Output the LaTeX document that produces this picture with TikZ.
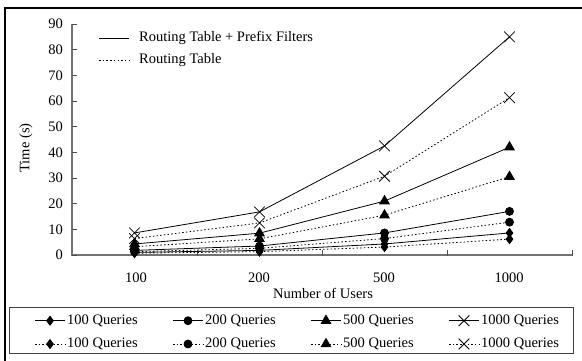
\documentclass[tikz,border=0pt]{standalone}
\usepackage{fontspec}
\setmainfont{Liberation Serif}
\usetikzlibrary{plotmarks}
\begin{document}
\begin{tikzpicture}[x=1pt,y=-1pt,
  font=\fontsize{14.5}{16}\selectfont,
  axisline/.style={draw=black!55, line width=1.6pt},
  tickline/.style={draw=black!70, line width=0.8pt},
  lbl/.style={inner sep=0pt},
  rtpf/.style={line width=0.8pt, solid},
  rt/.style={line width=0.8pt, dash pattern=on 1.5pt off 2.2pt},
  mdia/.style={mark=diamond*, mark size=4.5pt, mark options={solid}},
  mcirc/.style={mark=*, mark size=4pt, mark options={solid}},
  mtri/.style={mark=triangle*, mark size=5.5pt, mark options={solid}},
  mx/.style={mark=x, mark size=7.5pt, mark options={solid, line width=0.8pt}}]
\useasboundingbox (0,0) rectangle (582,360);
\clip (0,0) rectangle (582,360);
% outer frame
\draw[line width=1.4pt] (5,8) rectangle (600,380);
% axes
\draw[axisline] (72,24) -- (72,255) -- (572,255);
\foreach \v [count=\i] in {0,10,...,90} {
  \pgfmathsetmacro{\yy}{255-\v*2.5667}
  \draw[tickline] (72,\yy) -- (77,\yy);
  \node[lbl, anchor=east] (yl\i) at (63,\yy) {\v};
}
\foreach \xx in {197,322,447,572} {
  \draw[tickline] (\xx,250) -- (\xx,256);
}
\node[lbl] (x1) at (136,278) {100};
\node[lbl] (x2) at (259,278) {200};
\node[lbl] (x3) at (384,278) {500};
\node[lbl] (x4) at (509,278) {1000};
\node[lbl] (xt) at (323,293) {Number of Users};
\node[lbl, rotate=90] (yt) at (26,148) {Time (s)};
% top legend
\coordinate (la1) at (99,38); \coordinate (lb1) at (129,38);
\coordinate (la2) at (99,60); \coordinate (lb2) at (129,60);
\draw[rtpf] (la1) -- (lb1);
\draw[rt] (la2) -- (lb2);
\node[lbl, anchor=west] (lt1) at (139,38) {Routing Table + Prefix Filters};
\node[lbl, anchor=west] (lt2) at (139,60) {Routing Table};
% data
\begin{scope}[shift={(134.5,255)}, x=125pt, y=2.5667pt]
\draw[rt, mdia] plot coordinates {(0,0.7) (1,1.3) (2,3.1) (3,6.2)};
\draw[rtpf, mdia] plot coordinates {(0,1.0) (1,1.8) (2,4.3) (3,8.6)};
\draw[rt, mcirc] plot coordinates {(0,1.3) (1,2.6) (2,6.4) (3,12.8)};
\draw[rtpf, mcirc] plot coordinates {(0,1.8) (1,3.5) (2,8.6) (3,17)};
\draw[rt, mtri] plot coordinates {(0,3.2) (1,6.3) (2,15.5) (3,30.5)};
\draw[rtpf, mtri] plot coordinates {(0,4.3) (1,8.5) (2,21) (3,42)};
\draw[rt, mx] plot coordinates {(0,6.4) (1,12.5) (2,30.7) (3,61.3)};
\draw[rtpf, mx] plot coordinates {(0,8.6) (1,16.8) (2,42.5) (3,85)};
\end{scope}
% bottom legend
\draw[draw=black!75, line width=1pt] (9,307) rectangle (573,353);
\foreach \lx/\mk/\txt [count=\j] in {35/mdia/100, 173/mcirc/200, 311/mtri/500, 449/mx/1000} {
  \draw[rtpf] (\lx,320.7) -- ++(30,0);
  \draw[rtpf, \mk] plot coordinates {(\lx+15,320.7)};
  \node[lbl, anchor=west] (ls\j) at (\lx+32,320.7) {\txt{} Queries};
  \draw[rt] (\lx,344) -- ++(30,0);
  \draw[rt, \mk] plot coordinates {(\lx+15,344)};
  \node[lbl, anchor=west] (ld\j) at (\lx+32,344) {\txt{} Queries};
}
\end{tikzpicture}
\end{document}
